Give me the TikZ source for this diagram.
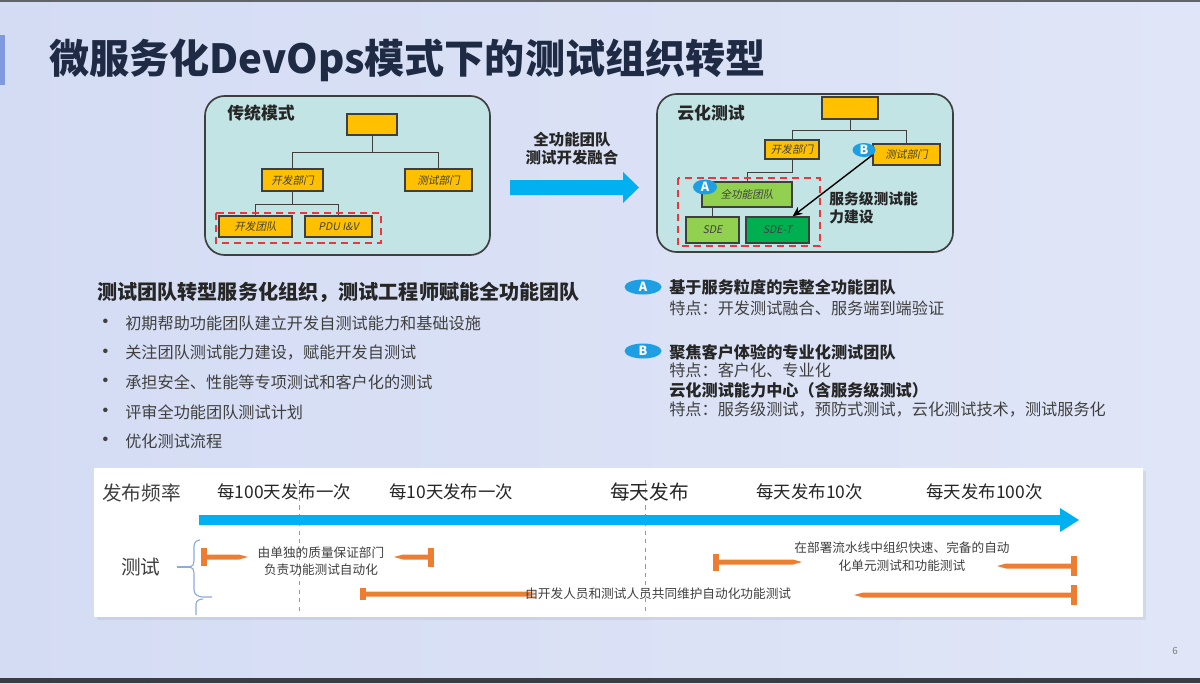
\documentclass[tikz,border=0pt]{standalone}
\usepackage{fontspec}
\setmainfont{Noto Sans CJK SC}
\newfontfamily\cjkit[FakeSlant=0.2]{Noto Sans CJK SC}
\usetikzlibrary{arrows.meta,calc,shapes.geometric}
\definecolor{bgl}{HTML}{D4DCF4}
\definecolor{bgr}{HTML}{E0E6F7}
\definecolor{titlec}{HTML}{1F2A44}
\definecolor{tealc}{HTML}{C2E4E4}
\definecolor{edgec}{HTML}{3F3F3F}
\definecolor{yelc}{HTML}{FFC000}
\definecolor{lgrc}{HTML}{92D050}
\definecolor{dgrc}{HTML}{00B050}
\definecolor{redc}{HTML}{E8383D}
\definecolor{bluec}{HTML}{00B0F0}
\definecolor{pillc}{HTML}{1E9FE3}
\definecolor{orgc}{HTML}{ED7D31}
\definecolor{txtc}{HTML}{262626}
\definecolor{graytxt}{HTML}{404040}
\definecolor{bracec}{HTML}{8EA9DB}
\definecolor{dashc}{HTML}{8A9BB8}
\definecolor{accentc}{HTML}{8098DE}
\definecolor{darkband}{HTML}{3A3D44}
\newcommand\pxu{0.025cm}
\newcommand\fs[1]{\fontsize{#1pt}{1.25\dimexpr #1pt\relax}\selectfont}
\tikzset{
  sz/.style 2 args={minimum width=#1*\pxu, minimum height=#2*\pxu},
  orgbox/.style={draw=edgec, line width=0.8pt, fill=yelc, inner sep=0pt, font=\cjkit\fs{7.5}, text=graytxt},
  grbox/.style={orgbox, fill=lgrc},
  dgbox/.style={orgbox, fill=dgrc},
  conn/.style={draw=edgec, line width=0.7pt},
  panelbox/.style={draw=edgec, line width=1.2pt, fill=tealc, rounded corners=14pt},
  reddash/.style={draw=redc, line width=1.6pt, dash pattern=on 5pt off 3.5pt},
  pill/.style={ellipse, fill=pillc, inner sep=0pt, text=white, font=\bfseries\fs{9}},
  txt/.style={inner sep=0pt, anchor=west, text=txtc},
  ctxt/.style={inner sep=0pt, text=graytxt, font=\fs{9}},
}
\newcommand\tbarR[4]{% T at #1, taper end at #2 (right), y #3, half T height #4
  \fill[orgc] (#1-3,#3-#4) rectangle (#1+3,#3+#4);
  \fill[orgc] (#1,#3-2.5) -- (#2-9,#3-2.5) -- (#2,#3) -- (#2-9,#3+2.5) -- (#1,#3+2.5) -- cycle;}
\newcommand\tbarL[4]{% T at #1, taper end at #2 (left)
  \fill[orgc] (#1-3,#3-#4) rectangle (#1+3,#3+#4);
  \fill[orgc] (#1,#3-2.5) -- (#2+9,#3-2.5) -- (#2,#3) -- (#2+9,#3+2.5) -- (#1,#3+2.5) -- cycle;}
\begin{document}
\begin{tikzpicture}[x=0.025cm,y=-0.025cm]
\useasboundingbox (0,0) rectangle (1200,683);
% background
\shade[left color=bgl, right color=bgr] (0,0) rectangle (1200,683);
\fill[darkband!80] (0,0) rectangle (1200,2);
\fill[darkband] (0,678) rectangle (1200,683);
\fill[accentc] (0,35) rectangle (5,85);
% title
\node[txt, text=titlec, font=\bfseries\fs{28.5}] (title) at (49,60) {微服务化DevOps模式下的测试组织转型};

% ---------- left panel ----------
\draw[panelbox] (205,96) rectangle (490,255);
\node[txt, font=\bfseries\fs{12}] (lhead) at (227,113) {传统模式};
\node[orgbox, sz={50}{21}] (ltop) at (372,124.5) {};
\node[orgbox, sz={61}{22}] (lkf) at (292.5,180) {开发部门};
\node[orgbox, sz={67}{22}] (lcs) at (438.5,180) {测试部门};
\node[orgbox, sz={73}{21}] (ltd) at (255.5,226.5) {开发团队};
\node[orgbox, sz={67}{21}] (lpdu) at (338.5,226.5) {PDU I\&V};
\draw[conn] (ltop.south) -- ($(ltop.south)+(0,17)$) -| (lkf.north);
\draw[conn] ($(ltop.south)+(0,17)$) -| (lcs.north);
\draw[conn] (lkf.south) -- ($(lkf.south)+(0,13)$) -| (ltd.north);
\draw[conn] ($(lkf.south)+(0,13)$) -| (lpdu.north);
\draw[reddash] (216,213) rectangle (381,243);

% ---------- middle arrow ----------
\node[font=\bfseries\fs{11}, text=txtc, inner sep=0pt] (m1) at (572,140) {全功能团队};
\node[font=\bfseries\fs{11}, text=txtc, inner sep=0pt] (m2) at (572,158) {测试开发融合};
\fill[bluec] (510,180) -- (623,180) -- (623,172) -- (639,187.5) -- (623,203) -- (623,195) -- (510,195) -- cycle;

% ---------- right panel ----------
\draw[panelbox] (657,94) rectangle (953,252);
\node[txt, font=\bfseries\fs{12}] (rhead) at (677,113) {云化测试};
\node[orgbox, sz={56}{22}] (rtop) at (850,108) {};
\node[orgbox, sz={54}{19}] (rkf) at (792,149.5) {开发部门};
\node[orgbox, sz={67}{21}] (rcs) at (906.5,154.5) {测试部门};
\node[grbox, sz={90}{25}] (rqgn) at (747,194.5) {全功能团队};
\node[grbox, sz={53}{26}] (rsde) at (712.5,230) {SDE};
\node[dgbox, sz={63}{26}] (rsdet) at (777.5,230) {SDE-T};
\draw[conn] (rtop.south) -- ($(rtop.south)+(0,11)$) -| (rkf.north);
\draw[conn] ($(rtop.south)+(0,11)$) -| (rcs.north);
\draw[conn] (rkf.south) -- ($(rkf.south)+(0,13)$) -| (rqgn.north);
\draw[conn] (rsde.north) -- (rsde.north |- rqgn.south);
\draw[reddash] (678,178) rectangle (820,246);
\node[pill, sz={24}{15}] (pa) at (705,187) {A};
\node[pill, sz={23}{14}] (pb) at (864,150) {B};
\coordinate (sdettop) at ($(rsdet.north)+(15,0)$);
\draw[black, line width=1pt, -{Stealth[length=7pt,width=6pt]}] (pb.south east) -- (sdettop);
\node[txt, font=\bfseries\fs{10.5}] (rnote1) at (829,199) {服务级测试能};
\node[txt, font=\bfseries\fs{10.5}] (rnote2) at (829,217) {力建设};

% ---------- left text ----------
\node[txt, font=\bfseries\fs{14.3}] (lt0) at (97,292) {测试团队转型服务化组织，测试工程师赋能全功能团队};
\foreach \yy/\tt in {323/初期帮助功能团队建立开发自测试能力和基础设施,
                     353/{关注团队测试能力建设，赋能开发自测试},
                     382/承担安全、性能等专项测试和客户化的测试,
                     412/评审全功能团队测试计划,
                     441/优化测试流程}{
  \node[txt, text=graytxt, font=\bfseries\fs{11.5}] at (97,\yy) {•};
  \node[txt, text=graytxt, font=\fs{11.5}] at (125,\yy) {\tt};
}

% ---------- right text ----------
\node[pill, sz={37}{15}] (qa) at (643,287) {A};
\node[txt, font=\bfseries\fs{11.5}] (ra1) at (669,287) {基于服务粒度的完整全功能团队};
\node[txt, text=graytxt, font=\fs{11.5}] (ra2) at (669,308) {特点：开发测试融合、服务端到端验证};
\node[pill, sz={37}{15}] (qb) at (643,351) {B};
\node[txt, font=\bfseries\fs{11.5}] (rb1) at (669,352) {聚焦客户体验的专业化测试团队};
\node[txt, text=graytxt, font=\fs{11.5}] (rb2) at (669,370) {特点：客户化、专业化};
\node[txt, font=\bfseries\fs{11.5}] (rb3) at (669,390) {云化测试能力中心（含服务级测试）};
\node[txt, text=graytxt, font=\fs{11.5}] (rb4) at (669,410) {特点：服务级测试，预防式测试，云化测试技术，测试服务化};

% ---------- bottom panel ----------
\fill[black, opacity=0.06] (97,471) rectangle (1146,620);
\fill[white] (94,468) rectangle (1143,617);
\draw[dashc, line width=0.6pt, dashed] (299,480) -- (299,615);
\draw[dashc, line width=0.6pt, dashed] (645,480) -- (645,615);
\node[txt, text=graytxt, font=\fs{14}] (fb) at (102,493) {发布频率};
\node[txt, font=\fs{12.4}] (f1) at (217,492) {每100天发布一次};
\node[txt, font=\fs{12.4}] (f2) at (389,492) {每10天发布一次};
\node[txt, font=\fs{14}] (f3) at (610,492) {每天发布};
\node[txt, font=\fs{12.4}] (f4) at (756,492) {每天发布10次};
\node[txt, font=\fs{12.4}] (f5) at (926,492) {每天发布100次};
\fill[bluec] (199,515) -- (1060,515) -- (1060,508) -- (1079,520) -- (1060,532) -- (1060,525) -- (199,525) -- cycle;
\node[txt, text=graytxt, font=\fs{14}] (cs) at (121,567) {测试};
\draw[bracec, line width=0.8pt] (177,567) -- (190,567);
\draw[bracec, line width=0.8pt] (200,540) to[out=180,in=90] (194,546) -- (194,561) to[out=-90,in=0] (190,567) to[out=0,in=90] (194,573) -- (194,590) to[out=-90,in=180] (203,597) -- (212,597);
\draw[bracec, line width=0.8pt] (196,615) -- (196,604) to[out=90,in=180] (203,599);
% orange bars
\tbarR{204}{248}{557}{9}
\tbarL{431}{394}{557}{9.5}
\node[ctxt] (o1a) at (321,553) {由单独的质量保证部门};
\node[ctxt] (o1b) at (321,570) {负责功能测试自动化};
\tbarL{363}{527}{594}{6}
\node[ctxt, anchor=west] (o2) at (525,594) {由开发人员和测试人员共同维护自动化功能测试};
\tbarR{716}{802}{562}{8.5}
\tbarL{1074}{997}{566}{10}
\node[ctxt] (o3a) at (902,548) {在部署流水线中组织快速、完备的自动};
\node[ctxt] (o3b) at (902,566) {化单元测试和功能测试};
\tbarL{1074}{854}{595}{10}
% page number
\node[inner sep=0pt, text=gray, font=\fs{7}] (pg) at (1175,651) {6};
\end{tikzpicture}
\end{document}
